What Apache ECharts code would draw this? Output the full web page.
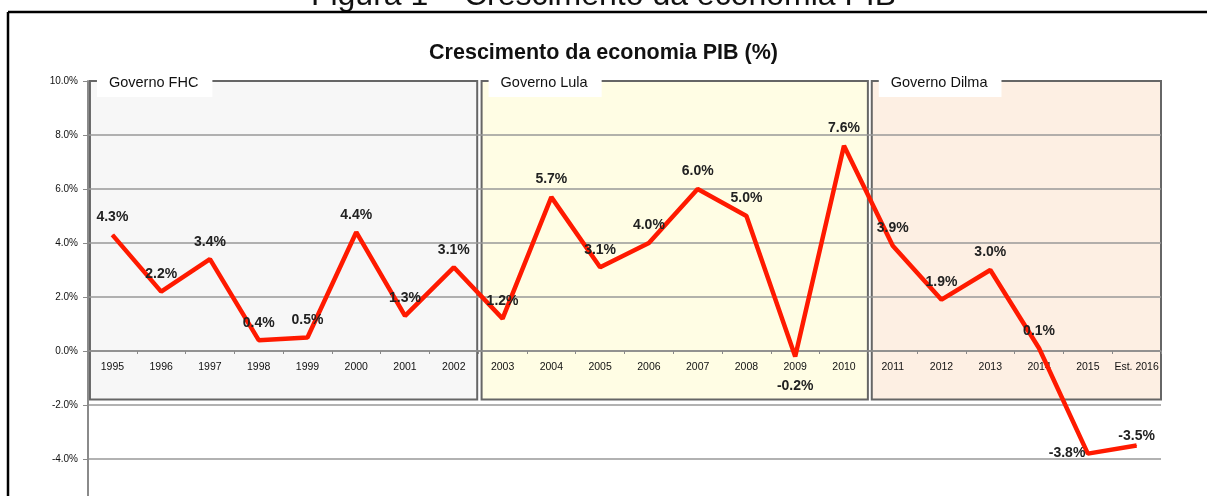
<!DOCTYPE html>
<html>
<head>
<meta charset="utf-8">
<script src="https://cdn.jsdelivr.net/npm/echarts@6/dist/echarts.min.js"></script>
<style>
  html, body { margin: 0; padding: 0; background: #fff; }
  #chart { width: 1207px; height: 496px; }
</style>
</head>
<body>
<div id="chart"></div>
<script>
var anos = ['1995', '1996', '1997', '1998', '1999', '2000', '2001', '2002',
  '2003', '2004', '2005', '2006', '2007', '2008', '2009', '2010',
  '2011', '2012', '2013', '2014', '2015', 'Est. 2016'];
var pib = [4.3, 2.2, 3.4, 0.4, 0.5, 4.4, 1.3, 3.1,
  1.2, 5.7, 3.1, 4.0, 6.0, 5.0, -0.2, 7.6,
  3.9, 1.9, 3.0, 0.1, -3.8, -3.5];
var governos = ['Governo FHC', 'Governo Lula', 'Governo Dilma'];
// limites de cada governo em posicoes de categoria (inicio, fim)
var inicioGov = [0.04, 8.07, 16.07];
var fimGov = [7.98, 15.99, 22];
var coresGov = ['#f7f7f7', '#fffde4', '#fdefe3'];
var yTicks = [-6, -4, -2, 0, 2, 4, 6, 8, 10];

var myChart = echarts.init(document.getElementById('chart'));

// rotulos que nao ficam em cima do ponto
var posEspecial = {
  14: { position: 'bottom', distance: 22 },
  20: { position: 'left', distance: 2, offset: [0, 4] },
  21: { position: 'top', distance: 2 }
};

var dados = pib.map(function (v, i) {
  var item = { value: v };
  if (posEspecial[i]) item.label = posEspecial[i];
  return item;
});

var areas = governos.map(function (g, i) {
  return [
    { name: g, xAxis: inicioGov[i], yAxis: 10, itemStyle: { color: coresGov[i] } },
    { xAxis: fimGov[i], yAxis: -1.8 }
  ];
});

var corGrade = yTicks.map(function (t) { return t === 10 ? 'rgba(0,0,0,0)' : '#999'; });

myChart.setOption({
  animation: false,
  textStyle: { fontFamily: 'Liberation Sans, Arial, sans-serif' },
  title: {
    text: 'Crescimento da economia PIB (%)',
    left: 'center',
    top: 37,
    textStyle: { fontSize: 21.5, fontWeight: 'bold', color: '#111' }
  },
  graphic: [
    { type: 'text', left: 'center', top: -20, style: { text: 'Figura 1 – Crescimento da economia PIB', font: '32px Liberation Sans, Arial', fill: '#111' } },
    { type: 'line', shape: { x1: 8, y1: 12, x2: 1207, y2: 12 }, style: { stroke: '#000', lineWidth: 2.5 } },
    { type: 'line', shape: { x1: 8, y1: 12, x2: 8, y2: 496 }, style: { stroke: '#000', lineWidth: 2.5 } }
  ],
  grid: { left: 88, right: 46, top: 81, height: 432, outerBoundsMode: 'none', containLabel: false },
  xAxis: [
    {
      type: 'category',
      data: anos,
      z: 2,
      position: 'bottom',
      offset: -162,
      boundaryGap: true,
      axisLine: { onZero: false, lineStyle: { color: '#888', width: 1.5 } },
      axisTick: { show: true, length: 3, lineStyle: { color: '#888' } },
      axisLabel: { show: true, color: '#111', fontSize: 10.5, margin: 11, interval: 0, hideOverlap: false },
      splitLine: { show: false }
    },
    { type: 'value', min: 0, max: 22, show: false }
  ],
  yAxis: {
    type: 'value',
    min: -6,
    max: 10,
    interval: 2,
    z: 2,
    axisLine: { show: true, onZero: false, lineStyle: { color: '#8a8a8a', width: 2 } },
    axisTick: { show: true, length: 5, lineStyle: { color: '#8a8a8a' } },
    axisLabel: {
      color: '#111', fontSize: 10, margin: 10,
      formatter: function (v) { return v.toFixed(1) + '%'; }
    },
    splitLine: { show: true, lineStyle: { color: corGrade, width: 1.5 } }
  },
  series: [
    {
      name: 'governos',
      type: 'line',
      xAxisIndex: 1,
      data: [],
      markArea: {
        silent: true,
        z: 1,
        itemStyle: { borderColor: '#666', borderWidth: 2 },
        label: {
          show: true,
          position: [8, -9],
          color: '#111',
          fontSize: 14.5,
          backgroundColor: '#fff',
          padding: [4, 14, 7, 12]
        },
        data: areas
      }
    },
    {
      name: 'PIB',
      type: 'line',
      xAxisIndex: 0,
      data: dados,
      symbol: 'circle',
      symbolSize: 1,
      showSymbol: true,
      z: 4,
      itemStyle: { color: '#ff1a00' },
      lineStyle: { color: '#ff1a00', width: 4.5 },
      labelLayout: { hideOverlap: false },
      label: {
        show: true,
        position: 'top',
        distance: 10,
        color: '#222',
        fontSize: 14,
        fontWeight: 'bold',
        formatter: function (p) { return p.value.toFixed(1) + '%'; }
      }
    }
  ]
});
</script>
</body>
</html>
